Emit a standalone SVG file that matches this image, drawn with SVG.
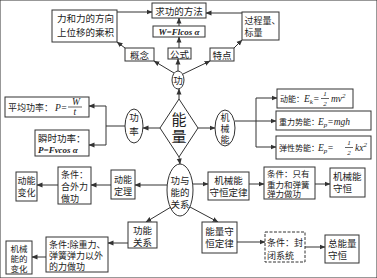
<svg xmlns="http://www.w3.org/2000/svg" width="377" height="278" viewBox="0 0 377 278">
<defs>
<marker id="ah" markerWidth="6" markerHeight="6" refX="5.5" refY="3" orient="auto" markerUnits="userSpaceOnUse">
<path d="M0,0.5 L6,3 L0,5.5 z" fill="#333"/>
</marker>
<style>
rect,ellipse,polygon{fill:#fff;stroke:#333;stroke-width:1}
.d{stroke-dasharray:3,1.5}
#edges line{stroke:#333;stroke-width:1;fill:none}
.a{marker-end:url(#ah)}
.fl{stroke:#222;stroke-width:0.7}
text{font-family:"Noto Sans CJK SC","Liberation Serif",serif;font-size:9.5px;fill:#222}
.c{text-anchor:middle}
.big{font-size:15px}
.sm{font-size:8px}
.n9{font-size:9px}
.n8{font-size:8.5px}
.m{font-family:"Liberation Serif",serif;font-style:italic;font-size:9.5px}
.mb{font-family:"Liberation Serif",serif;font-style:italic;font-weight:bold;font-size:9px}
.s{font-size:7px}
</style>
</defs>
<rect width="377" height="278" fill="#fff" stroke="none"/>
<g id="edges">
<line class="a" x1="117" y1="12" x2="152" y2="12"/>
<line class="a" x1="242" y1="13" x2="206" y2="13"/>
<line class="a" x1="179" y1="26" x2="179" y2="18"/>
<line class="a" x1="179" y1="48" x2="179" y2="37"/>
<line class="a" x1="125" y1="48" x2="117" y2="42"/>
<line class="a" x1="234" y1="48" x2="242" y2="40"/>
<line class="a" x1="174" y1="73" x2="154" y2="61"/>
<line class="a" x1="178" y1="71" x2="178" y2="59"/>
<line class="a" x1="183" y1="74" x2="210" y2="61"/>
<line class="a" x1="179" y1="99" x2="179" y2="89"/>
<line class="a" x1="160" y1="128" x2="143" y2="128"/>
<line class="a" x1="198" y1="128" x2="215" y2="128"/>
<line x1="125" y1="126" x2="106" y2="126"/>
<line x1="106" y1="106" x2="106" y2="145"/>
<line class="a" x1="106" y1="106" x2="89" y2="106"/>
<line class="a" x1="106" y1="145" x2="89" y2="145"/>
<line x1="235" y1="121" x2="256" y2="121"/>
<line x1="256" y1="98" x2="256" y2="147"/>
<line class="a" x1="256" y1="98" x2="277" y2="98"/>
<line class="a" x1="256" y1="121" x2="276" y2="121"/>
<line class="a" x1="256" y1="147" x2="276" y2="147"/>
<line class="a" x1="179" y1="157" x2="180" y2="164"/>
<line class="a" x1="167" y1="185" x2="135" y2="185"/>
<line class="a" x1="111" y1="185" x2="91" y2="185"/>
<line class="a" x1="58" y1="185" x2="37" y2="185"/>
<line class="a" x1="193" y1="184" x2="208" y2="184"/>
<line class="a" x1="249" y1="184" x2="264" y2="184"/>
<line class="a" x1="315" y1="184" x2="330" y2="184"/>
<line class="a" x1="171" y1="207" x2="146" y2="222"/>
<line class="a" x1="128" y1="243" x2="108" y2="243"/>
<line class="a" x1="46" y1="257" x2="32" y2="257"/>
<line class="a" x1="190" y1="207" x2="218" y2="222"/>
<line class="a" x1="237" y1="242" x2="265" y2="242"/>
<line class="a" x1="305" y1="247" x2="325" y2="247"/>
</g>
<g id="n-concept-def"><rect x="52" y="10" width="65" height="32"/><text x="57" y="22">力和力的方向<tspan x="57" y="36">上位移的乘积</tspan></text></g>
<g id="n-method"><rect x="152" y="3" width="54" height="15"/><text class="c" x="179" y="14.5">求功的方法</text></g>
<g id="n-formula-w"><rect x="153" y="26" width="52" height="11"/><text class="mb c" x="179" y="35">W=Flcos α</text></g>
<g id="n-formula"><rect x="168" y="48" width="23" height="11"/><text class="c" x="179.5" y="57.5">公式</text></g>
<g id="n-concept"><rect x="125" y="48" width="29" height="13"/><text class="c" x="139.5" y="58.5">概念</text></g>
<g id="n-feature"><rect x="210" y="48" width="24" height="13"/><text class="c" x="222" y="58.5">特点</text></g>
<g id="n-process"><rect x="242" y="12" width="37" height="28"/><text class="n9" x="244.5" y="24">过程量、<tspan x="244.5" y="36">标量</tspan></text></g>
<g id="n-work"><ellipse cx="178" cy="80" rx="6" ry="9"/><text class="c" x="178" y="84">功</text></g>
<g id="n-energy"><polygon points="179,99 198,128 179,157 160,128"/><text class="c big" x="179" y="125">能<tspan x="179" y="142">量</tspan></text></g>
<g id="n-power"><ellipse cx="134" cy="126" rx="9" ry="17"/><text class="c" x="134" y="121">功<tspan x="134" y="135">率</tspan></text></g>
<g id="n-mech"><ellipse cx="225" cy="128" rx="10" ry="18"/><text class="c n9" x="225" y="120.5">机<tspan x="225" y="131.5">械</tspan><tspan x="225" y="142.5">能</tspan></text></g>
<g id="n-avg-power"><rect x="5" y="97" width="84" height="20"/><line class="fl" x1="68" y1="107" x2="82" y2="107"/><text class="n9" x="8" y="111">平均功率：<tspan class="m" x="55" y="111">P=</tspan><tspan class="m" x="72" y="105" font-size="8">W</tspan><tspan class="m" x="73.5" y="115" font-size="8">t</tspan></text></g>
<g id="n-inst-power"><rect x="35" y="130" width="54" height="26"/><text x="38" y="142">瞬时功率：<tspan class="mb" x="38" y="153">P=Fvcos α</tspan></text></g>
<g id="n-ke"><rect x="277" y="89" width="76" height="19"/><line class="fl" x1="321" y1="98.5" x2="329" y2="98.5"/><text class="sm" x="280" y="102">动能：<tspan class="m" x="304" y="102">E</tspan><tspan class="m s" dy="2">k</tspan><tspan class="m" dy="-2">=</tspan><tspan class="m s" x="323.2" y="96">1</tspan><tspan class="m s" x="323.2" y="106">2</tspan><tspan class="m" x="331" y="102">mv</tspan><tspan class="m s" dy="-4">2</tspan></text></g>
<g id="n-gpe"><rect x="276" y="111" width="95" height="19"/><text class="sm" x="279" y="124.5">重力势能：<tspan class="m" x="318" y="124.5">E</tspan><tspan class="m s" dy="2">p</tspan><tspan class="m" dy="-2">=mgh</tspan></text></g>
<g id="n-epe"><rect x="276" y="136" width="95" height="23"/><line class="fl" x1="345" y1="147.5" x2="353" y2="147.5"/><text class="sm" x="279" y="151">弹性势能：<tspan class="m" x="318" y="151">E</tspan><tspan class="m s" dy="2">p</tspan><tspan class="m" dy="-2">=</tspan><tspan class="m s" x="347.2" y="145">1</tspan><tspan class="m s" x="347.2" y="155">2</tspan><tspan class="m" x="355" y="151">kx</tspan><tspan class="m s" dy="-4">2</tspan></text></g>
<g id="n-relation"><ellipse cx="180" cy="190" rx="13" ry="26"/><text class="c" x="180" y="184">功与<tspan x="180" y="196">能的</tspan><tspan x="180" y="208">关系</tspan></text></g>
<g id="n-ke-theorem"><rect x="111" y="170" width="24" height="29"/><text class="c n9" x="123" y="183">动能<tspan x="123" y="195">定理</tspan></text></g>
<g id="n-cond-net"><rect x="58" y="167" width="33" height="37"/><text class="n9" x="61" y="178">条件：<tspan x="61" y="190">合外力</tspan><tspan x="61" y="202">做功</tspan></text></g>
<g id="n-ke-change"><rect x="16" y="172" width="21" height="29"/><text class="c n9" x="26.5" y="184">动能<tspan x="26.5" y="196">变化</tspan></text></g>
<g id="n-mech-law"><rect x="208" y="172" width="41" height="28"/><text class="c" x="228.5" y="184">机械能<tspan x="228.5" y="196">守恒定律</tspan></text></g>
<g id="n-cond-only"><rect x="264" y="167" width="51" height="32"/><text class="n8" x="267" y="177">条件：只有<tspan x="267" y="187.5">重力和弹簧</tspan><tspan x="267" y="197">弹力做功</tspan></text></g>
<g id="n-mech-cons"><rect x="330" y="168" width="35" height="29"/><text x="333" y="180">机械能<tspan x="333" y="192">守恒</tspan></text></g>
<g id="n-work-energy"><rect x="128" y="222" width="29" height="26"/><text class="c" x="142.5" y="234">功能<tspan x="142.5" y="246">关系</tspan></text></g>
<g id="n-cond-other"><rect x="46" y="237" width="62" height="35"/><text class="n9" x="49" y="248">条件:除重力、<tspan x="49" y="259">弹簧弹力以外</tspan><tspan x="49" y="270">的力做功</tspan></text></g>
<g id="n-mech-change"><rect x="6" y="241" width="26" height="33"/><text class="c n8" x="19" y="251.5">机械<tspan x="19" y="261.5">能的</tspan><tspan x="19" y="271.5">变化</tspan></text></g>
<g id="n-energy-law"><rect x="202" y="222" width="35" height="31"/><text class="c" x="219.5" y="235">能量守<tspan x="219.5" y="247">恒定律</tspan></text></g>
<g id="n-cond-closed"><rect class="d" x="265" y="232" width="40" height="30"/><text class="n9" x="267" y="246">条件：封<tspan x="267" y="259">闭系统</tspan></text></g>
<g id="n-total"><rect x="325" y="235" width="34" height="28"/><text x="328" y="247">总能量<tspan x="328" y="259">守恒</tspan></text></g>
</svg>
